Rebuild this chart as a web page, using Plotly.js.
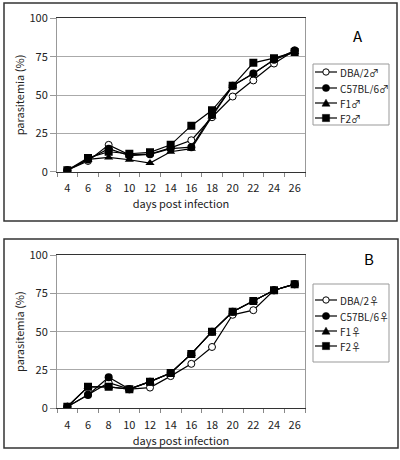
<!DOCTYPE html>
<html>
<head>
<meta charset="utf-8">
<script src="https://cdn.plot.ly/plotly-3.0.1.min.js"></script>
<style>html,body{margin:0;padding:0;background:#fff;}#chart{width:400px;height:460px;}</style>
</head>
<body>
<div id="chart"></div>
<script>
const days = [4, 6, 8, 10, 12, 14, 16, 18, 20, 22, 24, 26];

const namesA = ["DBA/2♂", "C57BL/6♂", "F1♂", "F2♂"];
const dbaA  = [1, 7, 17.5, 11, 11.5, 15.5, 20.5, 35.5, 49, 59.5, 70.5, 79];
const c57A  = [1, 8, 15, 10.5, 11.3, 15, 16, 37, 56, 64, 73, 79];
const f1A   = [1, 8, 9.3, 7.8, 5.6, 13, 15, 36, 56, 64, 73, 78];
const f2A   = [1, 9, 13, 11.7, 12.6, 17.5, 30, 40, 56, 71, 74, 78];

const namesB = ["DBA/2♀", "C57BL/6♀", "F1♀", "F2♀"];
const dbaB  = [1, 9, 16.7, 12.5, 13.5, 21, 29, 40, 61, 64, 77, 81];
const c57B  = [1, 8.7, 20.2, 12.5, 17.4, 23, 35.5, 50, 63, 70, 77, 81];
const f1B   = [1, 14, 14, 12.5, 17.4, 23, 35.5, 50, 63, 70, 77, 81];
const f2B   = [1, 14, 14, 12.5, 17.4, 23, 35.5, 50, 63, 70, 77, 81];

const yTicks = [0, 25, 50, 75, 100];
const xTicks = [4, 6, 8, 10, 12, 14, 16, 18, 20, 22, 24, 26];

const W = 400, H = 460;
const FONT = "Noto Sans CJK JP, Noto Sans, sans-serif";
const styles = [
  {symbol: "circle", color: "#fff", size: 7, line: {color: "#000", width: 1}},
  {symbol: "circle", color: "#000", size: 8, line: {color: "#000", width: 0}},
  {symbol: "triangle-up", color: "#000", size: 8, line: {color: "#000", width: 0}},
  {symbol: "square", color: "#000", size: 8, line: {color: "#000", width: 0}}
];

function mk(names, series, xa, ya) {
  return series.map((s, i) => ({
    x: days, y: s, name: names[i], type: "scatter", mode: "lines+markers",
    xaxis: xa, yaxis: ya, showlegend: false,
    line: {color: "#000", width: 1.2},
    marker: styles[i]
  }));
}

const data = [].concat(
  mk(namesA, [dbaA, c57A, f1A, f2A], "x", "y"),
  mk(namesB, [dbaB, c57B, f1B, f2B], "x2", "y2")
);

function xax(anchor) {
  return {
    domain: [0.1425, 0.7625], anchor: anchor, range: [3, 27], automargin: false,
    tickvals: xTicks, ticks: "", showgrid: false, zeroline: false,
    showline: true, linecolor: "#333", linewidth: 1, mirror: true,
    minor: {ticks: "outside", ticklen: 4, tick0: 3, dtick: 2, tickcolor: "#888", showgrid: false},
    ticklabelstandoff: 6,
    tickfont: {family: FONT, size: 11, color: "#222"},
    title: {text: "days post infection", font: {family: FONT, size: 11, color: "#222"}, standoff: 6}
  };
}
function yax(domain, anchor) {
  return {
    domain: domain, anchor: anchor, range: [0, 100], tickvals: yTicks, automargin: false,
    ticks: "outside", ticklen: 6, tickcolor: "#999",
    showgrid: true, gridcolor: "#aaa", gridwidth: 1, zeroline: false,
    showline: true, linecolor: "#999", linewidth: 1, mirror: true,
    tickfont: {family: FONT, size: 11, color: "#222"},
    title: {text: "parasitemia (%)", font: {family: FONT, size: 11, color: "#222"}, standoff: 2}
  };
}

// pixel -> paper helpers (margins are zero, so paper == figure)
const px = v => v / W;
const py = v => 1 - v / H;

const shapes = [
  {type: "rect", xref: "paper", yref: "paper", x0: px(4), x1: px(397), y0: py(221), y1: py(3), line: {color: "#333", width: 1.5}},
  {type: "rect", xref: "paper", yref: "paper", x0: px(4), x1: px(398), y0: py(448), y1: py(239), line: {color: "#333", width: 1.5}}
];
const annotations = [
  {text: "A", xref: "paper", yref: "paper", x: px(365), y: py(23), showarrow: false, font: {family: FONT, size: 15, color: "#000"}},
  {text: "B", xref: "paper", yref: "paper", x: px(376), y: py(258), showarrow: false, font: {family: FONT, size: 15, color: "#000"}}
];

// custom legend boxes
function addLegend(names, box, rows) {
  shapes.push({type: "rect", xref: "paper", yref: "paper", x0: px(box[0]), x1: px(box[1]), y0: py(box[3]), y1: py(box[2]),
    line: {color: "#999", width: 1}, fillcolor: "#fff", layer: "above"});
  names.forEach((n, i) => {
    const r = rows[i], cx = 326, s = 3.6;
    shapes.push({type: "line", xref: "paper", yref: "paper", x0: px(315), x1: px(337), y0: py(r), y1: py(r),
      line: {color: "#000", width: 1.2}, layer: "above"});
    if (i === 0) {
      shapes.push({type: "circle", xref: "paper", yref: "paper", x0: px(cx - 3.2), x1: px(cx + 3.2), y0: py(r + 3.2), y1: py(r - 3.2),
        line: {color: "#000", width: 1}, fillcolor: "#fff", layer: "above"});
    } else if (i === 1) {
      shapes.push({type: "circle", xref: "paper", yref: "paper", x0: px(cx - s), x1: px(cx + s), y0: py(r + s), y1: py(r - s),
        line: {color: "#000", width: 0.5}, fillcolor: "#000", layer: "above"});
    } else if (i === 2) {
      shapes.push({type: "path", xref: "paper", yref: "paper",
        path: `M ${px(cx - 4)} ${py(r + 3.2)} L ${px(cx + 4)} ${py(r + 3.2)} L ${px(cx)} ${py(r - 3.8)} Z`,
        line: {color: "#000", width: 0.5}, fillcolor: "#000", layer: "above"});
    } else {
      shapes.push({type: "rect", xref: "paper", yref: "paper", x0: px(cx - s), x1: px(cx + s), y0: py(r + s), y1: py(r - s),
        line: {color: "#000", width: 0.5}, fillcolor: "#000", layer: "above"});
    }
    annotations.push({text: n, xref: "paper", yref: "paper", x: px(339), y: py(r), xanchor: "left", yanchor: "middle",
      height: 12, valign: "middle", borderpad: 0,
      showarrow: false, font: {family: FONT, size: 10, color: "#222"}});
  });
}
addLegend(namesA, [313, 389, 64, 125], [72, 88, 103, 118]);
addLegend(namesB, [313, 389, 284, 362], [300, 316, 331, 346]);

const layout = {
  width: W, height: H,
  margin: {l: 0, r: 0, t: 0, b: 0, autoexpand: false},
  paper_bgcolor: "#fff", plot_bgcolor: "#fff",
  font: {family: FONT, size: 11, color: "#222"},
  showlegend: false,
  xaxis: xax("y"),
  yaxis: yax([1 - 171.7 / H, 1 - 18.3 / H], "x"),
  xaxis2: xax("y2"),
  yaxis2: yax([1 - 408.3 / H, 1 - 255 / H], "x2"),
  shapes: shapes,
  annotations: annotations
};

Plotly.newPlot("chart", data, layout, {displayModeBar: false, staticPlot: true});
</script>
</body>
</html>
